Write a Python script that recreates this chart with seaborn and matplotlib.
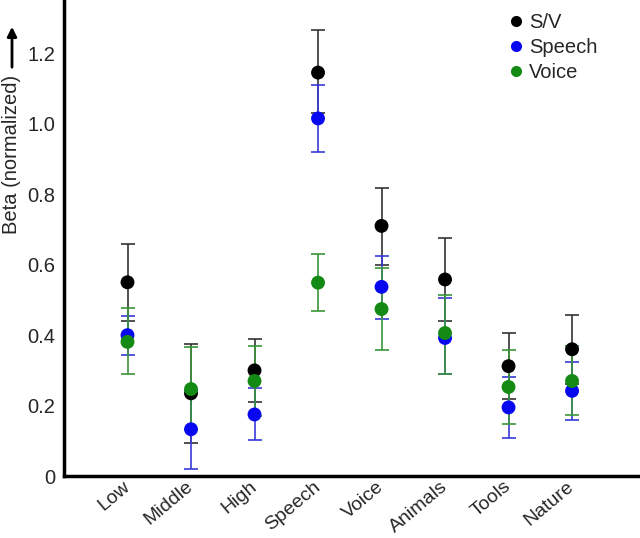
import numpy as np
import pandas as pd
import matplotlib
matplotlib.use('Agg')
import matplotlib.pyplot as plt
import seaborn as sns

categories = ['Low', 'Middle', 'High', 'Speech', 'Voice', 'Animals', 'Tools', 'Nature']
series = ['S/V', 'Speech', 'Voice']

sv_mean = [0.55, 0.235, 0.30, 1.145, 0.71, 0.558, 0.312, 0.36]
sv_low = [0.44, 0.094, 0.209, 1.03, 0.60, 0.44, 0.22, 0.26]
sv_high = [0.66, 0.374, 0.389, 1.266, 0.817, 0.677, 0.406, 0.457]

speech_mean = [0.40, 0.133, 0.175, 1.015, 0.537, 0.392, 0.195, 0.242]
speech_low = [0.343, 0.02, 0.103, 0.92, 0.446, 0.289, 0.109, 0.16]
speech_high = [0.454, 0.245, 0.249, 1.111, 0.626, 0.505, 0.28, 0.323]

voice_mean = [0.381, 0.247, 0.27, 0.549, 0.474, 0.406, 0.253, 0.27]
voice_low = [0.289, 0.13, 0.17, 0.469, 0.357, 0.291, 0.149, 0.174]
voice_high = [0.477, 0.366, 0.369, 0.631, 0.59, 0.514, 0.357, 0.37]

colors = {'S/V': '#000000', 'Speech': '#0808f0', 'Voice': '#138a13'}
err_colors = {'S/V': '#333333', 'Speech': '#3a3ad8', 'Voice': '#3a963a'}

# long format table
rows = []
for name, m, lo, hi in [('S/V', sv_mean, sv_low, sv_high),
                        ('Speech', speech_mean, speech_low, speech_high),
                        ('Voice', voice_mean, voice_low, voice_high)]:
    for c, a, b, d in zip(categories, m, lo, hi):
        rows.append({'category': c, 'series': name, 'beta': a, 'low': b, 'high': d})
df = pd.DataFrame(rows)

sns.set_style('white')
plt.rcParams['font.family'] = ['Liberation Sans', 'DejaVu Sans']

fig = plt.figure(figsize=(6.4, 5.38), dpi=100)
ax = fig.add_axes([0.1, 0.115, 0.9, 0.885])

xpos = {c: i for i, c in enumerate(categories)}
df['x'] = df['category'].map(xpos)

# error bars first, then points
for name in series:
    d = df[df['series'] == name]
    ax.errorbar(d['x'], d['beta'], yerr=[d['beta'] - d['low'], d['high'] - d['beta']],
                fmt='none', ecolor=err_colors[name], elinewidth=1.2, capsize=5, capthick=1.2)

sns.scatterplot(data=df, x='x', y='beta', hue='series', hue_order=series,
                palette=colors, s=100, edgecolor='none', ax=ax, zorder=3)

ax.set_xlim(-1, 8.07)
ax.set_ylim(0, 1.351)
ax.set_xticks(range(len(categories)))
ax.set_xticklabels(categories, rotation=40, ha='right', va='center',
                   rotation_mode='anchor', fontsize=14)
ax.set_yticks([0, 0.2, 0.4, 0.6, 0.8, 1.0, 1.2])
ax.set_yticklabels(['0', '0.2', '0.4', '0.6', '0.8', '1.0', '1.2'], fontsize=14.5)
ax.tick_params(axis='both', length=0)
ax.tick_params(axis='y', pad=6.5)
ax.tick_params(axis='x', pad=6)
ax.set_xlabel('')
ax.set_ylabel('')

# y label with an upward arrow above it
fig.text(12 / 640, 1 - 154 / 538, 'Beta (normalized)', rotation=90,
         ha='center', va='center', fontsize=14.5)
fig.add_artist(matplotlib.patches.FancyArrowPatch(
    (12 / 640, 1 - 70 / 538), (12 / 640, 1 - 24 / 538), transform=fig.transFigure,
    arrowstyle='-|>', mutation_scale=14, lw=2, color='black'))

sns.despine(ax=ax)
for s in ['left', 'bottom']:
    ax.spines[s].set_linewidth(2.5)
    ax.spines[s].set_color('black')

ax.legend(loc='upper left', bbox_to_anchor=(0.767, 0.972), frameon=False, fontsize=14.5,
          borderpad=0, borderaxespad=0, handlelength=1, handletextpad=0.15,
          labelspacing=0.3, markerscale=0.8)

fig.savefig('out.png', dpi=100)
